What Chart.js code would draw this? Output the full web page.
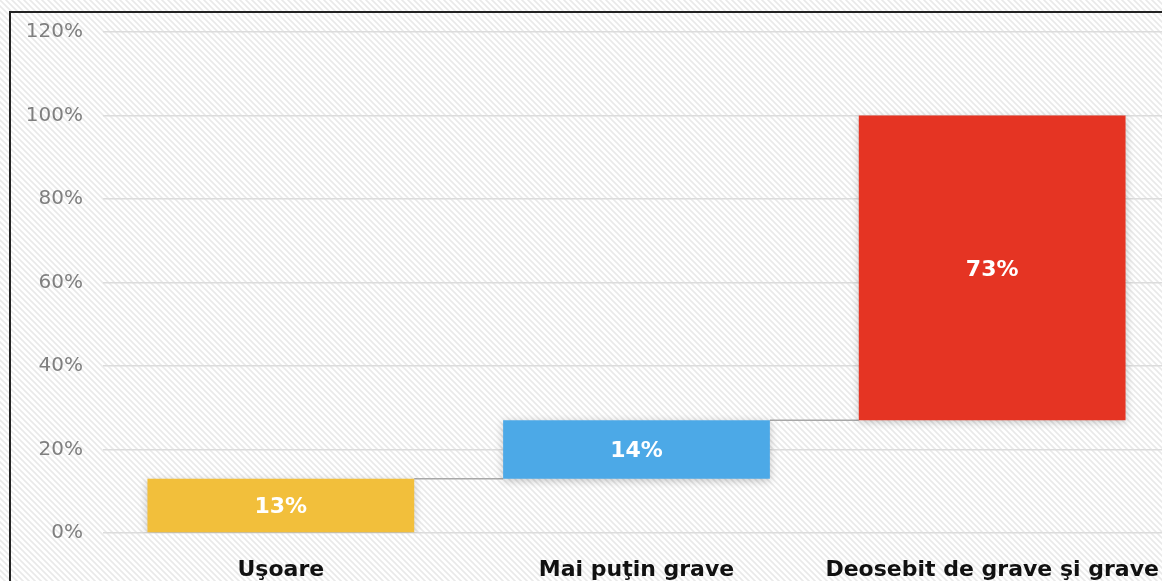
<!DOCTYPE html>
<html>
<head>
<meta charset="utf-8">
<script src="https://cdn.jsdelivr.net/npm/chart.js@4.4.0/dist/chart.umd.min.js"></script>
<style>
html, body { margin:0; padding:0; overflow:hidden; background:#fff; }
#wrap { position:absolute; left:0; top:0; width:1180px; height:600px; }
#frame { position:absolute; left:9px; top:11px; width:1200px; height:620px; border:2px solid #222; pointer-events:none; box-sizing:border-box; }
</style>
</head>
<body>
<div id="wrap"><canvas id="canvas"></canvas></div>
<div id="frame"></div>
<script>
var categories = ["Uşoare", "Mai puţin grave", "Deosebit de grave şi grave"];
var shares = [13, 14, 73];
var colors = ["#F2BF3B", "#4CA9E7", "#E53423"];
var yMax = 120;
var yStep = 20;

// waterfall: every bar starts where the previous one ended
var floating = [];
var running = 0;
for (var i = 0; i < shares.length; i++) {
    floating.push([running, running + shares[i]]);
    running += shares[i];
}

var hatch = null;
function getHatch(ctx) {
    if (hatch) return hatch;
    var c = document.createElement('canvas');
    c.width = 6; c.height = 6;
    var g = c.getContext('2d');
    g.fillStyle = '#ffffff';
    g.fillRect(0, 0, 6, 6);
    g.strokeStyle = '#e9e9e9';
    g.lineWidth = 1.6;
    [-6, 0, 6].forEach(function (o) {
        g.beginPath();
        g.moveTo(o - 1, -1);
        g.lineTo(o + 7, 7);
        g.stroke();
    });
    hatch = ctx.createPattern(c, 'repeat');
    return hatch;
}

var background = {
    id: 'background',
    beforeDraw: function (chart) {
        var ctx = chart.ctx;
        ctx.save();
        ctx.fillStyle = getHatch(ctx);
        ctx.fillRect(0, 0, chart.width, chart.height);
        ctx.restore();
    }
};

var connectors = {
    id: 'connectors',
    beforeDatasetsDraw: function (chart) {
        var ctx = chart.ctx;
        var meta = chart.getDatasetMeta(0);
        var ys = chart.scales.y;
        ctx.save();
        ctx.strokeStyle = '#a8a8a8';
        ctx.lineWidth = 1.5;
        for (var i = 0; i < meta.data.length - 1; i++) {
            var a = meta.data[i], b = meta.data[i + 1];
            var y = ys.getPixelForValue(floating[i][1]);
            ctx.beginPath();
            ctx.moveTo(a.x + a.width / 2, y);
            ctx.lineTo(b.x - b.width / 2, y);
            ctx.stroke();
        }
        // soft shadow under the bars
        ctx.shadowColor = 'rgba(0,0,0,0.22)';
        ctx.shadowBlur = 8;
        ctx.shadowOffsetY = 2;
    },
    afterDatasetsDraw: function (chart) {
        var ctx = chart.ctx;
        ctx.restore();
        var meta = chart.getDatasetMeta(0);
        ctx.save();
        ctx.fillStyle = '#ffffff';
        ctx.font = 'bold 22px "DejaVu Sans"';
        ctx.textAlign = 'center';
        ctx.textBaseline = 'middle';
        meta.data.forEach(function (el, i) {
            var p = el.getProps(['x', 'y', 'base'], true);
            ctx.fillText(shares[i] + '%', p.x, (p.y + p.base) / 2 + 2);
        });
        ctx.restore();
    }
};

var config = {
    type: 'bar',
    data: {
        labels: categories,
        datasets: [{
            data: floating,
            backgroundColor: colors,
            borderWidth: 0,
            barPercentage: 0.75,
            categoryPercentage: 1
        }]
    },
    options: {
        responsive: true,
        maintainAspectRatio: false,
        animation: false,
        layout: { padding: { left: 0, right: 10, top: 25, bottom: 0 } },
        plugins: { legend: { display: false }, tooltip: { enabled: false } },
        scales: {
            x: {
                grid: { display: false },
                border: { display: false },
                ticks: { color: '#111', font: { family: 'DejaVu Sans', size: 22, weight: 'bold' }, padding: 16, maxRotation: 0 },
                afterFit: function (s) { s.height = 67; }
            },
            y: {
                min: 0, max: yMax,
                ticks: { stepSize: yStep, color: '#7f7f7f', font: { family: 'DejaVu Sans', size: 20 }, padding: 20,
                    callback: function (v) { return v + '%'; } },
                grid: { color: '#dcdcdc', lineWidth: 1.5, drawTicks: false },
                border: { display: false },
                afterFit: function (s) { s.width = 103; }
            }
        }
    },
    plugins: [background, connectors]
};

window.onload = function () {
    var ctx = document.getElementById('canvas').getContext('2d');
    window.myBar = new Chart(ctx, config);
};
</script>
</body>
</html>
